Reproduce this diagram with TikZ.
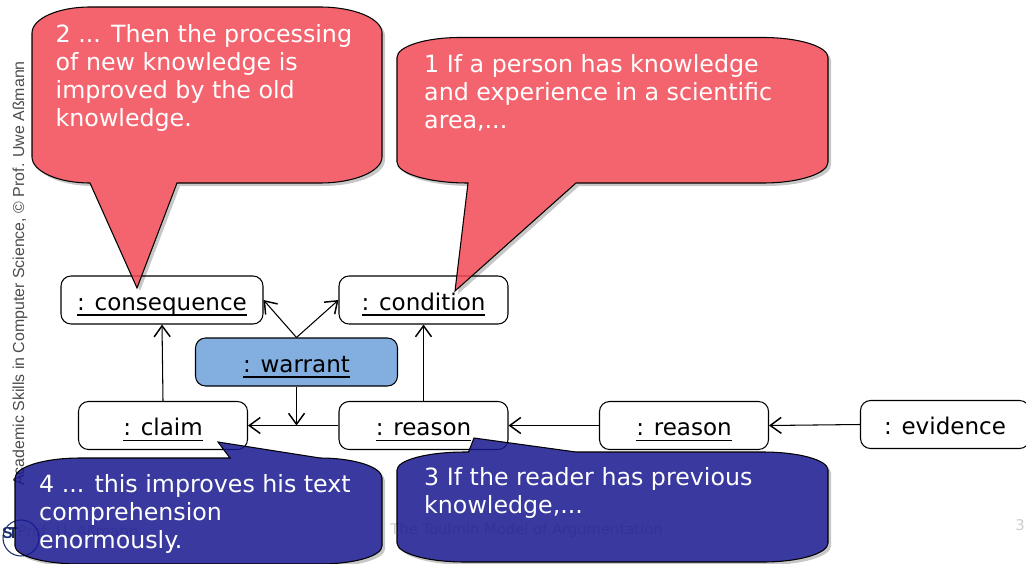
\documentclass[tikz,border=0pt]{standalone}
\usepackage{fontspec}
\setmainfont{DejaVu Sans}
\newfontfamily\sidefont{Liberation Sans}
\usetikzlibrary{arrows.meta}
\definecolor{calloutred}{RGB}{243,73,85}
\definecolor{calloutblue}{RGB}{23,23,143}
\definecolor{warrantblue}{RGB}{130,174,224}
\definecolor{footgray}{RGB}{205,205,205}
\definecolor{logoblue}{RGB}{25,45,110}
\tikzset
{
    objnode/.style = {draw=black, rounded corners=0.1cm, line width=0.3pt, minimum width=1.69cm, minimum height=0.48cm, inner sep=0pt, text height=0.2cm, text depth=0cm, font=\fontsize{6.55}{8}\selectfont},
    warrantnode/.style = {objnode, fill=warrantblue, minimum width=2.02cm},
    link/.style = {line width=0.3pt, -{Straight Barb[length=0.11cm,width=0.16cm,line width=0.42pt]}},
    calloutshadow/.style = {fill=black!22, xshift=0.03cm, yshift=-0.03cm},
    calloutback/.style = {fill=white},
    callout/.style = {draw=black, line width=0.3pt, fill opacity=0.85},
    callouttext/.style = {anchor=north west, align=left, inner sep=0pt, text=white, font=\fontsize{6.75}{7.97}\selectfont},
    foottext/.style = {text=footgray, inner sep=0pt, font=\fontsize{4.2}{5}\selectfont}
}
\newcommand{\objname}[1]{\underline{\smash{\hbox{#1}}}}
\newcommand{\calloutA}{(4.6,-0.375) -- (7.63,-0.375) arc[start angle=90, end angle=0, x radius=0.65, y radius=0.2] -- (8.28,-1.62) arc[start angle=0, end angle=-90, x radius=0.65, y radius=0.21] -- (5.76,-1.83) -- (4.55,-2.91) -- (4.68,-1.83) arc[start angle=270, end angle=180, x radius=0.71, y radius=0.21] -- (3.97,-0.575) arc[start angle=180, end angle=90, x radius=0.63, y radius=0.2] -- cycle}
\newcommand{\calloutB}{(0.9,-0.07) -- (3.2,-0.07) arc[start angle=90, end angle=0, x radius=0.62, y radius=0.26] -- (3.82,-1.57) arc[start angle=0, end angle=-90, x radius=0.62, y radius=0.26] -- (1.77,-1.83) -- (1.37,-2.88) -- (0.9,-1.83) arc[start angle=270, end angle=180, x radius=0.58, y radius=0.26] -- (0.32,-0.33) arc[start angle=180, end angle=90, x radius=0.58, y radius=0.26] -- cycle}
\newcommand{\calloutC}{(7.63,-4.52) arc[start angle=90, end angle=0, x radius=0.65, y radius=0.18] -- (8.28,-5.43) arc[start angle=0, end angle=-90, x radius=0.65, y radius=0.19] -- (4.65,-5.62) arc[start angle=270, end angle=180, x radius=0.68, y radius=0.19] -- (3.97,-4.7) arc[start angle=180, end angle=90, x radius=0.68, y radius=0.18] -- (4.685,-4.52) -- (4.74,-4.38) -- (5.76,-4.52) -- cycle}
\newcommand{\calloutD}{(3.2,-4.58) arc[start angle=90, end angle=0, x radius=0.62, y radius=0.2] -- (3.82,-5.46) arc[start angle=0, end angle=-90, x radius=0.62, y radius=0.18] -- (0.8,-5.64) arc[start angle=270, end angle=180, x radius=0.65, y radius=0.18] -- (0.15,-4.78) arc[start angle=180, end angle=90, x radius=0.65, y radius=0.2] -- (2.3,-4.58) -- (2.18,-4.42) -- cycle}
\begin{document}
\begin{tikzpicture}
	\useasboundingbox (0,0) rectangle (10.26,-5.63);
	% shadows and white backs of the callouts
	\begin{scope}
		\clip (0,0) rectangle (10.26,-5.63);
		\path[calloutshadow] \calloutA;
		\path[calloutshadow] \calloutB;
		\path[calloutshadow] \calloutC;
		\path[calloutshadow] \calloutD;
		\path[calloutback] \calloutA;
		\path[calloutback] \calloutB;
		\path[calloutback] \calloutC;
		\path[calloutback] \calloutD;
	\end{scope}
	% footer
	\node[rotate=90, inner sep=0pt, text=black!70, font=\sidefont\fontsize{4.53}{5}\selectfont] (sidetitle) at (0.2,-2.735) {Academic Skills in Computer Science, © Prof. Uwe Aßmann};
	\node[foottext] (foottitle) at (5.265,-5.3) {The Toulmin Model of Argumentation};
	\node[foottext] (footauthor) at (0.78,-5.31) {Prof. U. Aßmann};
	\node[foottext] (footpage) at (10.2,-5.25) {3};
	\node[circle, draw=logoblue, line width=0.3pt, minimum size=0.36cm, inner sep=0pt] (logoring) at (0.21,-5.38) {};
	\node[inner sep=0pt, text=logoblue, font=\sidefont\bfseries\fontsize{4.5}{5}\selectfont] (logotext) at (0.1,-5.335) {S\kern-1.2pt T};
	% objects
	\node[objnode, minimum width=2.02cm] (consequence) at (1.62,-3.0) {\objname{: consequence}};
	\node[objnode] (condition) at (4.235,-3.0) {\objname{: condition}};
	\node[warrantnode] (warrant) at (2.965,-3.62) {\objname{: warrant}};
	\node[objnode] (claim) at (1.63,-4.255) {\objname{: claim}};
	\node[objnode] (reasonA) at (4.235,-4.255) {\objname{: reason}};
	\node[objnode] (reasonB) at (6.84,-4.255) {\objname{: reason}};
	\node[objnode] (evidence) at (9.45,-4.245) {: evidence};
	\coordinate (warrantjoin) at (warrant.south |- reasonA.west);
	% links
	\draw[link] (claim.north) -- (consequence.south);
	\draw[link] (reasonA.north) -- (condition.south);
	\draw[link] (warrant.north) -- (consequence.east);
	\draw[link] (warrant.north) -- (condition.west);
	\draw[link] (warrant.south) -- (warrantjoin);
	\draw[link] (reasonA.west) -- (claim.east);
	\draw[link] (reasonB.west) -- (reasonA.east);
	\draw[link] (evidence.west) -- (reasonB.east);
	% callouts
	\draw[callout, fill=calloutred] \calloutB;
	\node[callouttext] (textB) at (0.55,-0.235) {2 ... Then the processing\\of new knowledge is\\improved by the old\\knowledge.};
	\draw[callout, fill=calloutred] \calloutA;
	\node[callouttext] (textA) at (4.235,-0.54) {1 If a person has knowledge\\and experience in a scientific\\area,...};
	\draw[callout, fill=calloutblue] \calloutD;
	\node[callouttext] (textD) at (0.385,-4.74) {4 ... this improves his text\\comprehension\\enormously.};
	\draw[callout, fill=calloutblue] \calloutC;
	\node[callouttext] (textC) at (4.235,-4.67) {3 If the reader has previous\\knowledge,...};
\end{tikzpicture}
\end{document}
